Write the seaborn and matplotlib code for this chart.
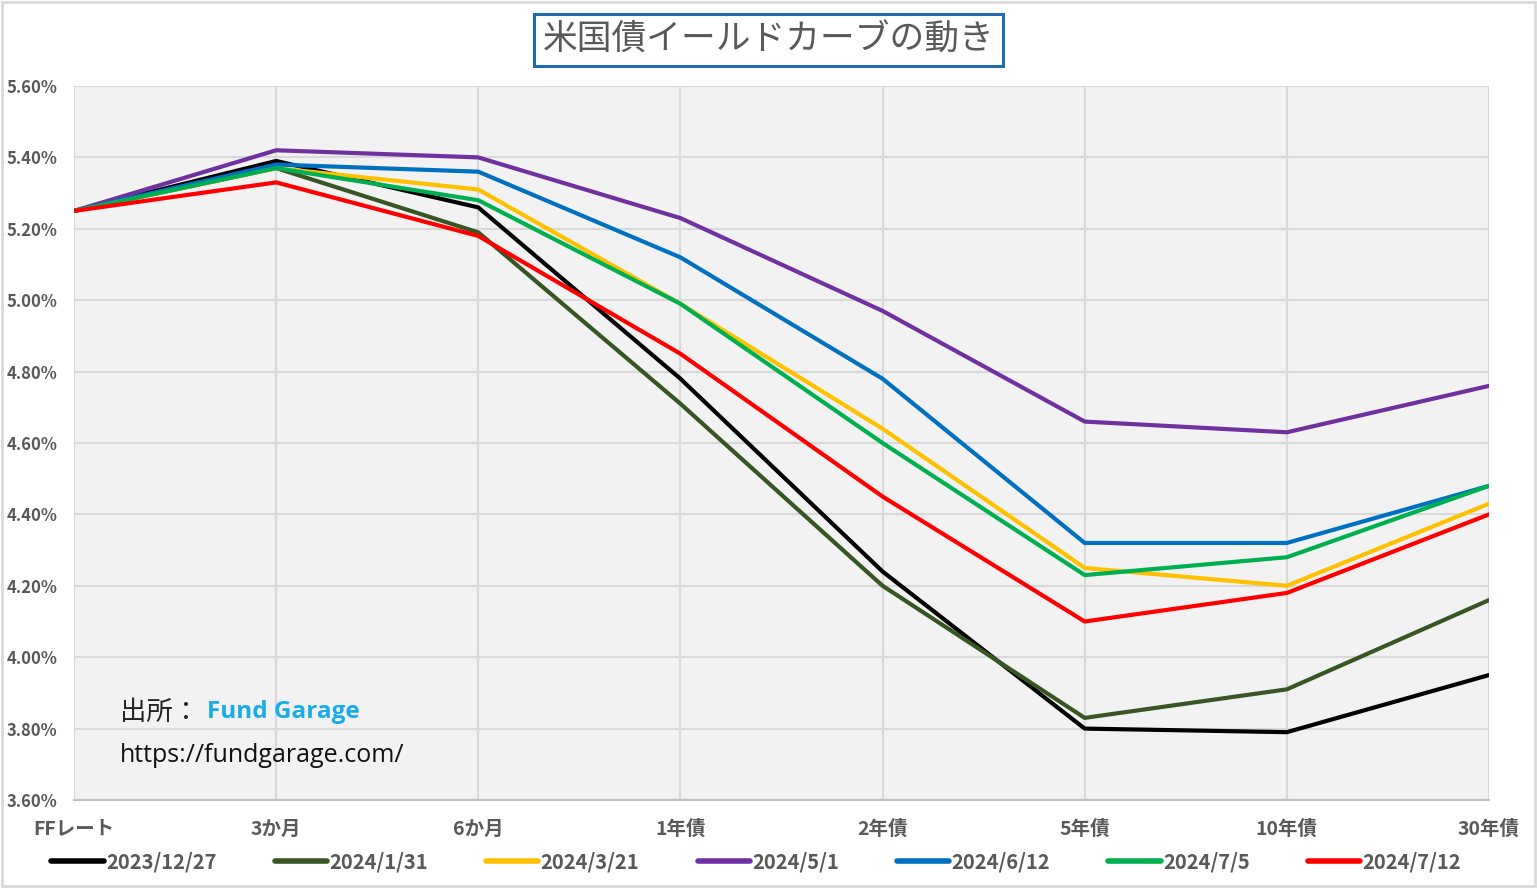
import matplotlib
matplotlib.use("Agg")
import matplotlib.pyplot as plt
import seaborn as sns
import pandas as pd
from matplotlib.patches import Rectangle
from matplotlib.ticker import FuncFormatter, MultipleLocator

categories = ["FFレート", "3か月", "6か月", "1年債", "2年債", "5年債", "10年債", "30年債"]
dates = ["2023/12/27", "2024/1/31", "2024/3/21", "2024/5/1", "2024/6/12", "2024/7/5", "2024/7/12"]
s_20231227 = [5.25, 5.39, 5.26, 4.78, 4.24, 3.80, 3.79, 3.95]
s_20240131 = [5.25, 5.37, 5.19, 4.71, 4.20, 3.83, 3.91, 4.16]
s_20240321 = [5.25, 5.37, 5.31, 4.99, 4.64, 4.25, 4.20, 4.43]
s_20240501 = [5.25, 5.42, 5.40, 5.23, 4.97, 4.66, 4.63, 4.76]
s_20240612 = [5.25, 5.38, 5.36, 5.12, 4.78, 4.32, 4.32, 4.48]
s_20240705 = [5.25, 5.37, 5.28, 4.99, 4.60, 4.23, 4.28, 4.48]
s_20240712 = [5.25, 5.33, 5.18, 4.85, 4.45, 4.10, 4.18, 4.40]
colors = ["#000000", "#375623", "#FFC000", "#7030A0", "#0070C0", "#00B050", "#FF0000"]

series = [s_20231227, s_20240131, s_20240321, s_20240501, s_20240612, s_20240705, s_20240712]
rows = []
for d, vals in zip(dates, series):
    for c, v in zip(categories, vals):
        rows.append({"年限": c, "利回り": v, "日付": d})
df = pd.DataFrame(rows)

sns.set_theme(style="white")
plt.rcParams["font.family"] = ["Noto Sans CJK JP", "DejaVu Sans"]

fig = plt.figure(figsize=(15.37, 8.88), dpi=100)
fig.patch.set_facecolor("white")
ax = fig.add_axes([74/1537, 1-800/888, (1489-74)/1537, (800-86)/888])
ax.set_facecolor("#F2F2F2")

sns.lineplot(data=df, x="年限", y="利回り", hue="日付", hue_order=dates,
             palette=dict(zip(dates, colors)), sort=False, linewidth=3.0,
             ax=ax, legend=True)

ax.set_xlim(0, len(categories) - 1)
ax.set_ylim(3.60, 5.60)
ax.yaxis.set_major_locator(MultipleLocator(0.2))
ax.yaxis.set_major_formatter(FuncFormatter(lambda v, p: f"{v:.2f}%"))
ax.set_xticks(range(len(categories)))
ax.set_xticklabels(categories)
ax.set_xlabel("")
ax.set_ylabel("")

ax.grid(True, axis="both", color="#D9D9D9", linewidth=1.5)
ax.set_axisbelow(True)
for side in ["top", "right", "left"]:
    ax.spines[side].set_visible(False)
ax.spines["bottom"].set_color("#BFBFBF")
ax.spines["bottom"].set_linewidth(1.5)
ax.tick_params(axis="x", which="major", direction="out", length=6, width=1.2,
               color="#BFBFBF", pad=8, labelsize=14, labelcolor="#595959")
ax.tick_params(axis="y", length=0, pad=12, labelsize=12, labelcolor="#595959")
for lbl in ax.get_xticklabels() + ax.get_yticklabels():
    lbl.set_fontweight("bold")

handles, labels = ax.get_legend_handles_labels()
ax.legend_.remove()
leg = fig.legend(handles, labels, loc="center", bbox_to_anchor=(0.492, 1-862/888), ncol=7,
                 frameon=False, handlelength=2.6, columnspacing=2.9,
                 handletextpad=0.1, labelcolor="#595959", prop={"weight": "bold", "size": 14.5})
for line in leg.get_lines():
    line.set_linewidth(4)

# title with box
fig.text(0.5, 1-40/888, "米国債イールドカーブの動き", ha="center", va="center",
         fontsize=25, color="#595959",
         bbox=dict(boxstyle="square,pad=0.25", facecolor="white", edgecolor="#1F6BAE", linewidth=2.2))

# source annotation
fig.text(120/1537, 1-712/888, "出所：", ha="left", va="center", fontsize=19, color="#222222")
fig.text(207/1537, 1-712/888, "Fund Garage", ha="left", va="center", fontsize=17.5,
         color="#1AACE6", fontweight="bold", family=["Open Sans", "DejaVu Sans"])
fig.text(120/1537, 1-755/888, "https://fundgarage.com/", ha="left", va="center", fontsize=18,
         color="#111111", family=["Open Sans", "DejaVu Sans"])

# outer border
fig.add_artist(Rectangle((0.0015, 0.002), 0.997, 0.996, transform=fig.transFigure,
                         fill=False, edgecolor="#D9D9D9", linewidth=2))

fig.savefig("out.png", dpi=100, facecolor="white")
